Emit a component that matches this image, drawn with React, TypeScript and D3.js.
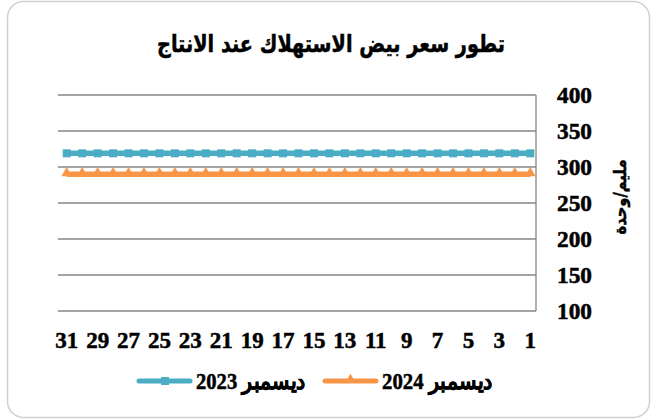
import React from "react";
import * as d3 from "d3";

const days: number[] = Array.from({ length: 31 }, (_, i) => i + 1);
const dec2023: number[] = [319,319,319,319,319,319,319,319,319,319,319,319,319,319,319,319,319,319,319,319,319,319,319,319,319,319,319,319,319,319,319];
const dec2024: number[] = [290,290,290,290,290,290,290,290,290,290,290,290,290,290,290,290,290,290,290,290,290,290,290,290,290,290,290,290,290,290,290];
const yTicks: number[] = [100, 150, 200, 250, 300, 350, 400];
const title = "تطور سعر بيض الاستهلاك عند الانتاج";
const yTitle = "مليم/وحدة";
const seriesNames = ["ديسمبر 2023", "ديسمبر 2024"];
const colors = ["#4bacc6", "#f79646"];

const W = 658, H = 419;
const plot = { left: 58, right: 536, top: 95, bottom: 311 };
const FONT = "'Liberation Serif', 'Times New Roman', serif";
const AFONT = "'DejaVu Sans', 'Liberation Sans', sans-serif";
const heavy = { stroke: "#000", strokeWidth: 0.5 };

export default function App() {
  const x = d3.scaleBand<number>().domain([...days].reverse()).range([plot.left + 1, plot.right + 2]);
  const cx = (d: number) => (x(d) as number) + x.bandwidth() / 2;
  const y = d3.scaleLinear().domain([100, 400]).range([plot.bottom, plot.top]);
  const line = (vals: number[]) =>
    d3.line<number>().x((_, i) => cx(days[i])).y((v) => y(v))(vals) as string;
  const tri = d3.symbol().type(d3.symbolTriangle).size(50)() as string;

  return (
    <svg width={W} height={H} style={{ position: "absolute", left: 0, top: 0 }}>
      <rect x={7.5} y={1.5} width={642} height={416} rx={16} fill="#fff" stroke="#d0d0d0" strokeWidth={1.5} />
      <text x={331} y={52} textAnchor="middle" fontFamily={AFONT} fontWeight="bold" fontSize={24} {...heavy}
        textLength={348} lengthAdjust="spacingAndGlyphs">{title}</text>
      {yTicks.map((t) => (
        <g key={t}>
          <line x1={plot.left} x2={plot.right} y1={y(t)} y2={y(t)} stroke="#868686" strokeWidth={1.3} />
          <text x={557} y={y(t) + 8} fontFamily={FONT} fontWeight={700} fontSize={23} {...heavy}
            textLength={35} lengthAdjust="spacingAndGlyphs">{t}</text>
        </g>
      ))}
      <line x1={plot.right} x2={plot.right} y1={plot.top} y2={plot.bottom} stroke="#868686" strokeWidth={1.3} />
      <text transform={`translate(626,197) rotate(-90)`} textAnchor="middle" fontFamily={AFONT} fontWeight="bold" fontSize={17} {...heavy}
        textLength={75} lengthAdjust="spacingAndGlyphs">{yTitle}</text>
      {days.filter((d) => d % 2 === 1).map((d) => (
        <text key={d} x={cx(d)} y={348} textAnchor="middle" fontFamily={FONT} fontWeight={700} fontSize={23} {...heavy}>{d}</text>
      ))}
      <path d={line(dec2023)} fill="none" stroke={colors[0]} strokeWidth={5.5} />
      {dec2023.map((v, i) => (
        <rect key={i} x={cx(days[i]) - 4} y={y(v) - 4} width={8} height={8} fill={colors[0]} />
      ))}
      <path d={line(dec2024)} fill="none" stroke={colors[1]} strokeWidth={5.5} />
      {dec2024.map((v, i) => (
        <path key={i} d={tri} transform={`translate(${cx(days[i])},${y(v) - 1})`} fill={colors[1]} />
      ))}
      <g>
        <line x1={139} x2={190} y1={381} y2={381} stroke={colors[0]} strokeWidth={5} strokeLinecap="round" />
        <rect x={161} y={377} width={8} height={8} fill={colors[0]} />
        <text x={305} y={389} textAnchor="end" fontFamily={FONT} fontWeight={700} fontSize={23} {...heavy}
          textLength={109} lengthAdjust="spacingAndGlyphs">{seriesNames[0]}</text>
        <line x1={325} x2={376} y1={381} y2={381} stroke={colors[1]} strokeWidth={5} strokeLinecap="round" />
        <path d={tri} transform={`translate(350.5,380)`} fill={colors[1]} />
        <text x={492} y={389} textAnchor="end" fontFamily={FONT} fontWeight={700} fontSize={23} {...heavy}
          textLength={110} lengthAdjust="spacingAndGlyphs">{seriesNames[1]}</text>
      </g>
    </svg>
  );
}
